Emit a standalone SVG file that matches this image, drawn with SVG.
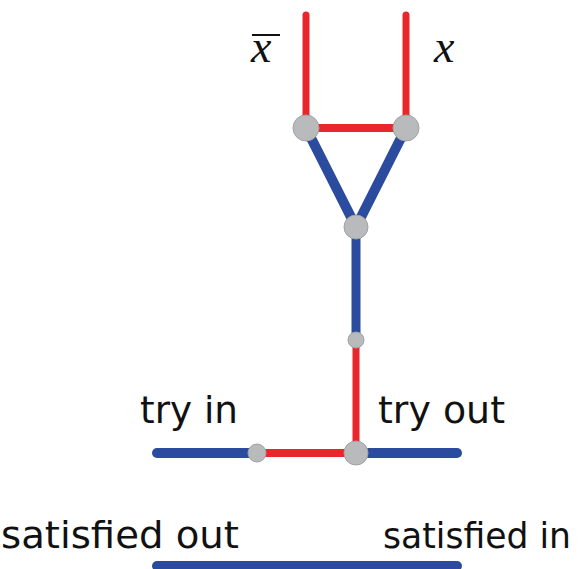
<svg xmlns="http://www.w3.org/2000/svg" width="579" height="569" viewBox="0 0 579 569">
<style>
.red{stroke:#e8262b;stroke-width:7;stroke-linecap:round;fill:none}
.blue{stroke:#2b4c9e;stroke-width:10;stroke-linecap:round;fill:none}
.node{fill:#b9babc;stroke:#a0a1a3;stroke-width:1}
.lbl{font-family:"DejaVu Sans","Liberation Sans",sans-serif;font-size:38px;fill:#111}
.math{font-family:"Liberation Serif",serif;font-style:italic;font-size:46px;fill:#111}
</style>
<rect width="579" height="569" fill="#fff"/>
<g id="connectors">
<line class="red" x1="306" y1="15" x2="306" y2="128"/>
<line class="red" x1="406" y1="15" x2="406" y2="128"/>
<line class="red" x1="306" y1="128" x2="406" y2="128" style="stroke-width:8"/>
<line class="blue" x1="306" y1="128" x2="356" y2="227"/>
<line class="blue" x1="406" y1="128" x2="356" y2="227"/>
<line class="blue" x1="356" y1="227" x2="356" y2="340" style="stroke-width:9"/>
<line class="red" x1="356" y1="340" x2="356" y2="453" style="stroke-width:7"/>
<line class="blue" x1="157" y1="453" x2="257" y2="453"/>
<line class="red" x1="257" y1="453" x2="356" y2="453" style="stroke-width:8;stroke-linecap:butt"/>
<line class="blue" x1="356" y1="453" x2="457" y2="453"/>
<line class="blue" x1="157" y1="566" x2="457" y2="566"/>
</g>
<g id="n_xbar_top"><circle class="node" cx="306" cy="128" r="13"/></g>
<g id="n_x_top"><circle class="node" cx="406" cy="128" r="13"/></g>
<g id="n_join"><circle class="node" cx="356" cy="227" r="12"/></g>
<g id="n_mid"><circle class="node" cx="356" cy="340" r="8"/></g>
<g id="n_tryin"><circle class="node" cx="257" cy="453" r="9"/></g>
<g id="n_tryout"><circle class="node" cx="356" cy="453" r="12"/></g>
<g id="labels">
<text class="math" x="251" y="62">x</text>
<line x1="252" y1="35" x2="280" y2="35" stroke="#111" stroke-width="2"/>
<text class="math" x="434" y="62">x</text>
<text class="lbl" x="140" y="423" textLength="98" lengthAdjust="spacingAndGlyphs">try in</text>
<text class="lbl" x="378" y="423" textLength="127" lengthAdjust="spacingAndGlyphs">try out</text>
<text class="lbl" x="1" y="548" textLength="238" lengthAdjust="spacingAndGlyphs">satisfied out</text>
<text class="lbl" x="383" y="548" style="font-size:35px" textLength="188" lengthAdjust="spacingAndGlyphs">satisfied in</text>
</g>
</svg>
